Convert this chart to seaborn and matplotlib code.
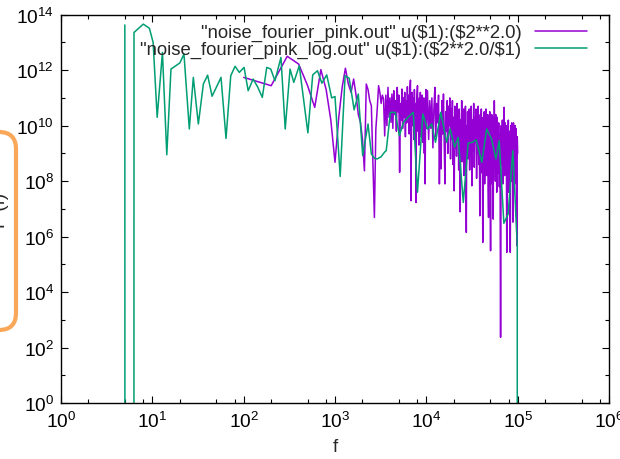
import numpy as np
import pandas as pd
import matplotlib
matplotlib.use("Agg")
import matplotlib.pyplot as plt
import seaborn as sns
from matplotlib.patches import FancyBboxPatch
from matplotlib.transforms import IdentityTransform
from matplotlib.ticker import FixedLocator, NullFormatter, LogFormatterSciNotation

# ---------------- data (log10 of power) ----------------
# "noise_fourier_pink.out"  u($1):($2**2.0)
pink_f_low = [100, 200, 300, 400, 500, 600, 700, 800, 900, 1000, 1100, 1200, 1300, 1400,
              1500, 1600, 1700, 1800, 1900, 2000, 2100, 2200, 2300, 2400, 2500, 2600,
              2700, 2800, 2900, 3000, 3100, 3200, 3300, 3400]
pink_v_low = [11.74, 11.44, 12.50, 12.22, 11.45, 10.66, 12.02, 11.3, 10.2, 8.68, 10.3, 11.4,
              12.07, 11.50, 11.2, 11.68, 11.1, 10.4, 10.12, 9.5, 8.37, 11.50, 11.3, 10.90,
              10.72, 8.6, 6.69, 9.88, 10.6, 11.44, 11.2, 10.8, 11.1, 10.96]

pink_f_a = [3500, 3600, 3700, 3800, 3900, 4000, 4100, 4200, 4300, 4400, 4500, 4600, 4700,
            4800, 4900, 5000, 5100, 5200, 5300, 5400, 5500, 5600, 5700, 5800, 5900, 6000,
            6100, 6200, 6300, 6400, 6500, 6600, 6700, 6800, 6900, 7000, 7100, 7200, 7300,
            7400, 7500, 7600, 7700, 7800, 7900, 8000, 8100, 8200, 8300, 8400, 8500, 8600,
            8700, 8800, 8900, 9000, 9100, 9200, 9300, 9400, 9500, 9600, 9700, 9800, 9900,
            10000]
pink_v_a = [9.63, 11.1, 10.0, 11.38, 10.3, 11.0, 10.12, 11.14, 9.9, 11.26, 10.4, 10.9, 9.8,
            11.38, 10.5, 11.1, 8.32, 10.8, 10.2, 11.32, 9.9, 11.0, 10.3, 11.2, 9.6, 10.9,
            10.1, 11.4, 10.4, 11.1, 9.7, 11.3, 11.64, 7.29, 10.6, 11.2, 10.0, 11.0, 9.5,
            11.3, 10.2, 10.8, 7.23, 10.5, 11.1, 11.44, 9.8, 10.9, 9.3, 11.0, 10.0, 11.2,
            9.6, 10.7, 10.1, 11.1, 9.4, 10.8, 10.2, 11.0, 9.0, 10.6, 7.9, 10.4, 11.3,
            9.9]

pink_f_b = [10300, 10600, 10900, 11200, 11500, 11800, 12100, 12400, 12700, 13000, 13300,
            13600, 13900, 14200, 14500, 14800, 15100, 15400, 15700, 16000, 16300, 16600,
            16900, 17200, 17500, 17800, 18100, 18400, 18700, 19000, 19300, 19600, 19900,
            20200, 20500, 20800, 21100, 21400, 21700, 22000, 22300, 22600, 22900, 23200,
            23500, 23800, 24100, 24400, 24700, 25000, 25300, 25600, 25900, 26200, 26500,
            26800, 27100, 27400, 27700, 28000, 28300, 28600, 28900, 29200, 29500, 29800]
pink_v_b = [11.26, 9.5, 10.9, 9.9, 11.0, 9.2, 10.6, 11.38, 9.6, 10.8, 10.1,
            11.1, 7.9, 10.4, 8.44, 10.9, 9.7, 11.14, 9.3, 7.9, 10.5, 9.8,
            10.9, 9.0, 10.7, 10.0, 11.0, 8.8, 10.6, 9.5, 10.9, 8.6, 10.3,
            7.65, 10.7, 9.2, 10.5, 8.9, 10.8, 9.6, 10.4, 8.4, 10.6, 9.3,
            6.89, 10.2, 9.8, 10.9, 8.7, 10.3, 9.1, 10.6, 8.2, 10.1, 9.4,
            10.7, 8.5, 6.15, 10.0, 9.2, 10.5, 8.8, 10.3, 9.6, 10.6, 8.4]

pink_f_c = [30000, 30500, 31000, 31500, 32000, 32500, 33000, 33500, 34000, 34500, 35000,
            35500, 36000, 36500, 37000, 37500, 38000, 38500, 39000, 39500, 40000, 40500,
            41000, 41500, 42000, 42500, 43000, 43500, 44000, 44500, 45000, 45500, 46000,
            46500, 47000, 47500, 48000, 48500, 49000, 49500, 50000, 50500, 51000, 51500,
            52000, 52500, 53000, 53500, 54000, 54500, 55000, 55500, 56000, 56500, 57000,
            57500, 58000, 58500, 59000, 59500]
pink_v_c = [10.4, 8.9, 10.7, 7.83, 10.2, 9.1, 10.8, 8.5, 10.3, 9.4, 10.6,
            8.1, 10.1, 9.0, 10.7, 8.6, 10.2, 6.75, 10.4, 9.2, 10.6, 8.3,
            10.0, 5.79, 10.3, 8.9, 10.5, 7.9, 10.1, 9.3, 10.6, 8.2, 10.0,
            8.8, 10.4, 7.7, 6.69, 10.2, 9.0, 10.5, 8.4, 5.49, 10.1, 8.7,
            10.4, 7.9, 10.0, 9.1, 6.63, 10.3, 8.5, 10.9, 9.6, 10.2, 8.0,
            10.4, 8.9, 10.1, 7.6, 10.3]

pink_f_d = [60000, 61000, 62000, 63000, 64000, 65000, 66000, 67000, 68000, 69000, 70000,
            71000, 72000, 73000, 74000, 75000, 76000, 77000, 78000, 79000, 80000, 81000,
            82000, 83000, 84000, 85000, 86000, 87000, 88000, 89000, 90000, 91000, 92000,
            93000, 94000, 95000, 96000, 97000, 98000, 99000, 100000]
pink_v_d = [9.9, 8.3, 10.1, 7.8, 9.7, 2.37, 10.0, 8.6, 10.2, 7.9, 9.8,
            10.66, 8.2, 10.1, 8.9, 10.0, 5.43, 9.9, 8.4, 10.2, 7.6, 9.8,
            9.1, 5.43, 10.0, 8.0, 10.1, 8.7, 9.9, 6.52, 10.1, 8.3, 9.8,
            7.9, 10.0, 8.6, 9.9, 7.4, 5.67, 9.6, 9.0]

# "noise_fourier_pink_log.out" u($1):($2**2.0/$1)   (-inf = empty bin, power 0)
log_f = [5.0, 5.6, 6.3, 7.96, 9.29, 10.2, 11.3, 12.9, 14.4, 16.0, 20.0, 22.2, 25.4, 28.1,
         31.9, 36.2, 40.3, 45.1, 50.5, 56.5, 64.1, 72.2, 80.5, 89.6, 101, 112, 127, 142,
         160, 179, 198, 220, 256, 285, 322, 354, 406, 505, 570, 643, 718, 812, 920, 1000,
         1140, 1290, 1430, 1620, 1800, 2010, 2300, 2500, 2700, 2900, 3200, 3500, 3640,
         4040, 4560, 5070, 5630, 6300, 7200, 8000, 9150, 10300, 11450, 12600, 14400,
         16700, 18200, 20400, 22300, 25400, 28700, 32000, 35200, 40500, 45800, 51700,
         57700, 62800, 70600, 78600, 88600, 99000, 100000]
log_v = [13.63, -np.inf, 13.36, 13.66, 13.51, 13.00, 10.30, 12.64, 8.95, 12.04, 12.26, 12.58,
         9.88, 11.74, 10.06, 11.50, 11.82, 11.06, 11.4, 11.74, 9.54, 11.80, 12.14, 11.92,
         12.10, 11.26, 11.68, 11.4, 11.02, 12.10, 12.04, 11.62, 12.46, 9.88, 12.04, 11.56,
         12.16, 9.74, 11.83, 11.98, 11.53, 11.83, 11.0, 11.05, 8.17, 11.80, 11.71, 10.57,
         11.14, 8.92, 10.06, 8.98, 8.82, 8.80, 8.88, 9.05, 9.10, 10.48, 10.48, 9.64, 10.12,
         10.3, 10.48, 7.60, 10.42, 9.88, 10.06, 9.40, 10.48, 9.4, 9.88, 9.22, 9.58, 7.23,
         9.37, 9.40, 9.49, 8.68, 9.88, 9.52, 8.80, 9.46, 6.48, 6.81, 9.10, 5.67, -np.inf]

label_pink = '"noise_fourier_pink.out" u(\\$1):(\\$2**2.0)'
label_log = '"noise_fourier_pink_log.out" u(\\$1):(\\$2**2.0/\\$1)'
x_label = "f"
y_label = "P (f)"

pink_df = pd.DataFrame({
    "f": pink_f_low + pink_f_a + pink_f_b + pink_f_c + pink_f_d,
    "P": np.power(10.0, np.array(pink_v_low + pink_v_a + pink_v_b + pink_v_c + pink_v_d)),
})
log_df = pd.DataFrame({"f": log_f, "P": np.power(10.0, np.array(log_v))})

# ---------------- style ----------------
sns.set_theme(style="ticks")
plt.rcParams["font.family"] = ["Liberation Sans", "DejaVu Sans"]
plt.rcParams["mathtext.fontset"] = "custom"
plt.rcParams["mathtext.rm"] = "Liberation Sans"
plt.rcParams["axes.linewidth"] = 1.0

fig = plt.figure(figsize=(6.2, 4.6), dpi=100)
ax = fig.add_axes([61 / 620, 1 - 404 / 460, (609 - 61) / 620, (404 - 15.7) / 460])

sns.lineplot(data=pink_df, x="f", y="P", ax=ax, color="#9400D3", lw=1.1,
             estimator=None, sort=False, label=label_pink)
sns.lineplot(data=log_df, x="f", y="P", ax=ax, color="#009E73", lw=1.1,
             estimator=None, sort=False, label=label_log)

ax.set_xscale("log")
ax.set_yscale("log")
ax.set_xlim(1, 1e6)
ax.set_ylim(1, 1e14)

ax.xaxis.set_major_locator(FixedLocator([10.0 ** e for e in range(0, 7)]))
ax.xaxis.set_minor_locator(FixedLocator([m * 10.0 ** e for e in range(0, 6) for m in (2, 5, 8)]))
ax.yaxis.set_major_locator(FixedLocator([10.0 ** e for e in range(0, 15, 2)]))
ax.yaxis.set_minor_locator(FixedLocator([10.0 ** e for e in range(1, 15, 2)]))
ax.xaxis.set_major_formatter(LogFormatterSciNotation())
ax.yaxis.set_major_formatter(LogFormatterSciNotation())
ax.xaxis.set_minor_formatter(NullFormatter())
ax.yaxis.set_minor_formatter(NullFormatter())

ax.tick_params(which="both", direction="in", top=True, right=True, colors="black",
               labelsize=13.8, width=0.8)
ax.tick_params(which="major", length=5)
ax.tick_params(which="minor", length=2.8)
ax.tick_params(axis="x", which="major", pad=6)
ax.tick_params(axis="y", which="major", pad=5)
for s in ax.spines.values():
    s.set_color("black")

ax.set_xlabel(x_label, fontsize=13.5, labelpad=5)
ax.set_ylabel("")
fig.text(1 / 620, 1 - 210 / 460, y_label, rotation=90, ha="center", va="center",
         fontsize=13.5)

leg = ax.legend(loc="upper right", bbox_to_anchor=(587 / 620, 1 - 25 / 460),
                bbox_transform=fig.transFigure, frameon=False, markerfirst=False,
                fontsize=13.3, handlelength=2.8, handletextpad=0.75, labelspacing=0.0,
                borderpad=0, borderaxespad=0)

# orange highlight box around the y label (partly cut at the left edge)
box = FancyBboxPatch((-40, 460 - 331), 56, 198,
                     boxstyle="round,pad=0,rounding_size=17",
                     transform=IdentityTransform(), fill=False,
                     edgecolor="#F9A85A", linewidth=3.0, clip_on=False)
fig.patches.append(box)

fig.savefig("out.png", dpi=100)
